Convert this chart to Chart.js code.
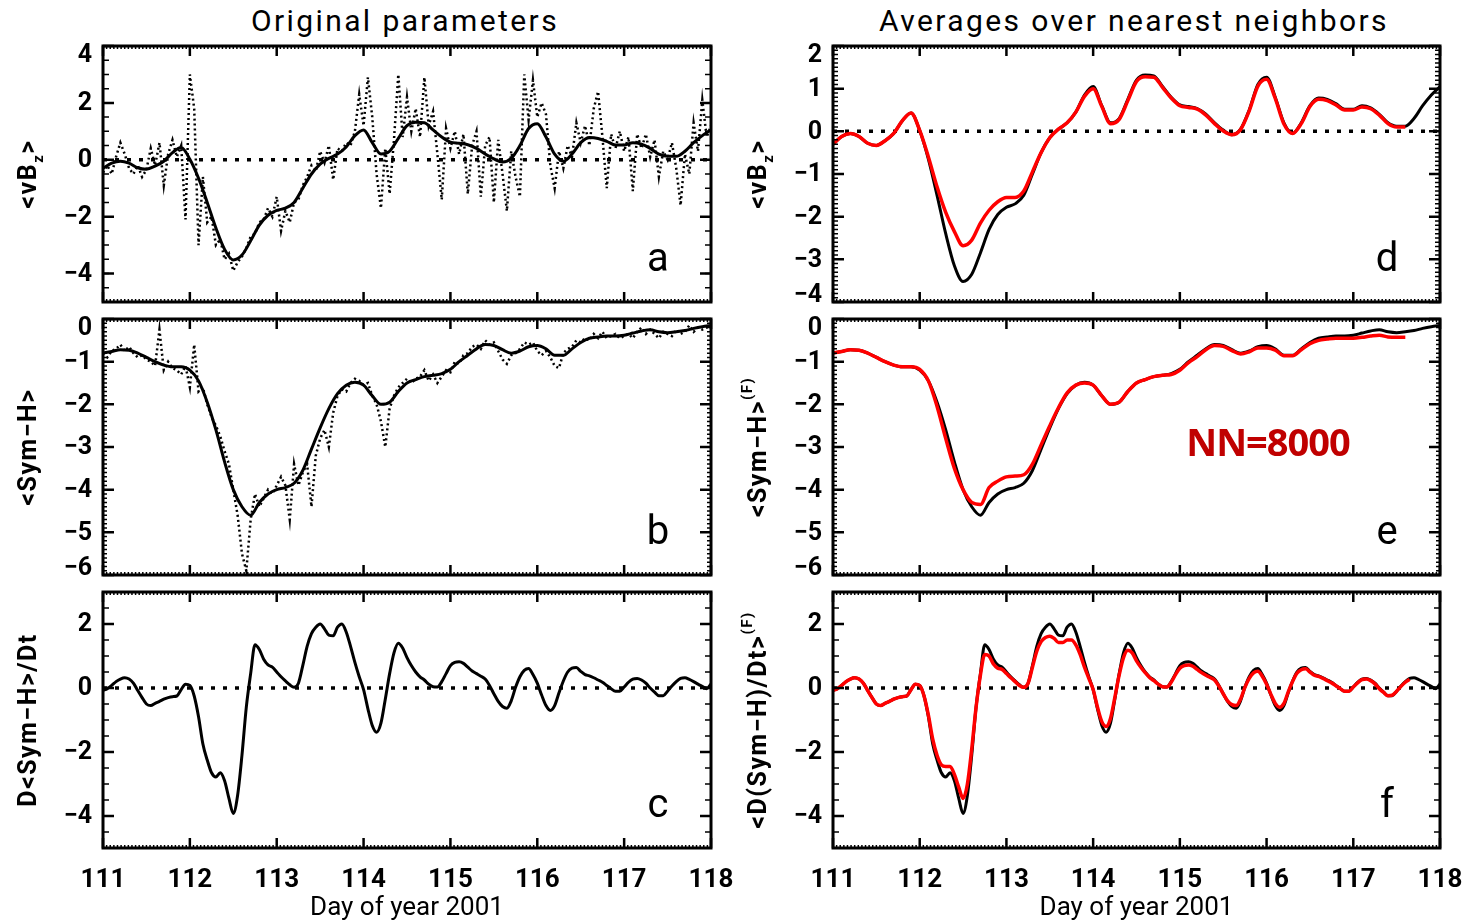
<!DOCTYPE html>
<html>
<head>
<meta charset="utf-8">
<script src="https://cdn.jsdelivr.net/npm/chart.js@4.4.1/dist/chart.umd.min.js"></script>
<style>
  html, body { margin: 0; padding: 0; background: #fff; }
  body { width: 1468px; height: 924px; position: relative; overflow: hidden;
         font-family: Roboto, 'DejaVu Sans', sans-serif; }
  canvas { position: absolute; }
  .coltitle { position: absolute; top: 3px; font-size: 30px; letter-spacing: 2.4px;
              color: #000; transform: translateX(-50%); white-space: nowrap; }
  #nn { position: absolute; left: 1268px; top: 441px; transform: translate(-50%, -50%);
        font-family: 'Open Sans', Lato, sans-serif; font-weight: 700; font-size: 38px;
        color: #c00000; white-space: nowrap; letter-spacing: -1px; }
</style>
</head>
<body>
<div class="coltitle" style="left:405px">Original parameters</div>
<div class="coltitle" style="left:1134px">Averages over nearest neighbors</div>

<canvas id="pa" width="740" height="318" style="left:0;top:0"></canvas>
<canvas id="pb" width="740" height="290" style="left:0;top:300px"></canvas>
<canvas id="pc" width="740" height="349" style="left:0;top:575px"></canvas>
<canvas id="pd" width="728" height="318" style="left:740px;top:0"></canvas>
<canvas id="pe" width="728" height="290" style="left:740px;top:300px"></canvas>
<canvas id="pf" width="728" height="349" style="left:740px;top:575px"></canvas>

<div id="nn">NN=8000</div>

<script>
// ── time axis (day of year 2001)
const X_MIN = 111, X_MAX = 118;
const X_TICKS = [111, 112, 113, 114, 115, 116, 117, 118];
const X_MINOR_PER_DAY = 24;           // hourly minor ticks

const DAYS_01 = Array.from({ length: 71 }, (_, i) => +(X_MIN + i * 0.1).toFixed(2));
const DAYS_005 = Array.from({ length: 141 }, (_, i) => +(X_MIN + i * 0.05).toFixed(2));

// ── <vBz>: raw (dotted, 0.05 d) and smoothed (0.1 d)
const VBZ_DOTS = [
  -0.45, -0.2, -0.5, 0.1, 0.6, 0.2, -0.3, -0.5, -0.2, -0.6, -0.35, 0.4, -0.2, 0.6, -0.9, 0.2, 0.7, 0.1, 0.5, -2.1,
  3.0, 1.8, -3.0, -0.6, -2.2, -2.0, -3.0, -2.8, -3.5, -3.3, -3.9, -3.6, -3.4, -3.1, -2.7, -2.6, -2.2, -2.1, -1.7, -2.0,
  -1.3, -2.5, -1.8, -2.2, -1.5, -1.4, -0.9, -0.6, -0.2, -0.4, 0.3, -0.1, 0.5, -0.7, 0.4, 0.3, 0.6, 0.5, 1.0, 2.3,
  1.2, 2.9, 1.5, -0.5, -1.7, 0.4, -1.2, 0.7, 3.0, 0.8, 2.2, 1.0, 1.8, 0.8, 2.9, 1.2, 1.7, 0.2, -1.4, 1.1,
  0.4, 1.0, 0.2, 0.9, -1.2, 0.5, 1.0, -1.3, 0.5, 0.8, -1.5, 0.7, -0.5, -1.8, 0.3, -0.6, -1.3, 3.0, 1.4, 2.8,
  1.5, 2.0, 1.6, -0.2, -1.0, 0.3, -0.3, 0.5, 0.1, 1.3, 0.6, 1.2, 0.5, 1.8, 2.4, 0.8, -1.0, 0.9, 0.4, 1.0,
  0.3, 0.8, -1.1, 0.9, 0.4, 0.9, 0.1, 0.7, -0.6, 0.3, 0.0, 0.6, -0.3, -1.6, 0.2, -0.5, 1.3, 0.3, 2.1, 0.8,
  1.2
];
const VBZ_SMOOTH = [
  -0.3, -0.12, -0.05, -0.12, -0.28, -0.33, -0.22, -0.05, 0.25, 0.43,
  0.02, -0.65, -1.5, -2.4, -3.15, -3.52, -3.35, -2.85, -2.3, -1.95,
  -1.78, -1.7, -1.5, -1.0, -0.5, -0.15, 0.05, 0.2, 0.45, 0.85,
  1.05, 0.6, 0.2, 0.3, 0.75, 1.2, 1.32, 1.3, 1.05, 0.8,
  0.62, 0.58, 0.53, 0.4, 0.2, 0.03, -0.08, 0.05, 0.5, 1.1,
  1.27, 0.8, 0.2, -0.05, 0.2, 0.6, 0.78, 0.75, 0.65, 0.52,
  0.52, 0.6, 0.55, 0.4, 0.2, 0.12, 0.12, 0.3, 0.6, 0.85,
  1.05
];
// NN=8000 average, stops at 117.6
const VBZ_NN = [
  -0.3, -0.12, -0.05, -0.12, -0.28, -0.33, -0.22, -0.05, 0.25, 0.43,
  0.02, -0.6, -1.3, -1.9, -2.35, -2.68, -2.55, -2.15, -1.85, -1.65,
  -1.55, -1.55, -1.4, -0.95, -0.5, -0.15, 0.05, 0.2, 0.45, 0.82,
  1.0, 0.58, 0.18, 0.28, 0.72, 1.17, 1.28, 1.27, 1.03, 0.78,
  0.6, 0.56, 0.52, 0.38, 0.18, 0.01, -0.08, 0.04, 0.48, 1.06,
  1.22, 0.77, 0.17, -0.05, 0.18, 0.58, 0.75, 0.72, 0.62, 0.5,
  0.5, 0.57, 0.53, 0.38, 0.18, 0.1, 0.1
];

// ── <Sym-H>
const SYMH_DOTS = [
  -0.8, -0.9, -0.75, -0.7, -0.6, -0.75, -0.65, -0.8, -0.9, -0.85, -0.95, -1.0, -1.1, -0.25, -1.2, -1.0, -1.15, -1.2, -1.3, -1.1,
  -1.6, -0.6, -1.7, -1.6, -2.0, -2.3, -2.5, -2.75, -3.1, -3.4, -4.0, -4.6, -5.5, -5.9, -4.7, -4.1, -4.4, -4.2, -4.0, -4.1,
  -3.9, -3.7, -3.9, -4.7, -3.4, -3.9, -3.6, -3.4, -4.4, -3.2, -2.8, -2.6, -3.0, -2.2, -1.8, -1.65, -1.7, -1.5, -1.4, -1.45,
  -1.55, -1.5, -1.8, -2.0, -2.4, -3.0, -2.1, -1.8, -1.6, -1.5, -1.4, -1.5, -1.4, -1.35, -1.2, -1.45, -1.3, -1.5, -1.35, -1.2,
  -1.25, -1.0, -1.05, -0.85, -0.8, -0.65, -0.6, -0.7, -0.5, -0.6, -0.55, -0.75, -0.95, -1.05, -0.85, -0.8, -0.7, -0.55, -0.6, -0.55,
  -0.75, -0.85, -0.75, -0.9, -1.1, -1.15, -0.8, -0.7, -0.65, -0.5, -0.55, -0.45, -0.5, -0.35, -0.45, -0.3, -0.45, -0.4, -0.35, -0.45,
  -0.4, -0.35, -0.45, -0.3, -0.2, -0.35, -0.25, -0.35, -0.45, -0.3, -0.35, -0.4, -0.25, -0.35, -0.3, -0.15, -0.3, -0.2, -0.25, -0.2,
  -0.2
];
const SYMH_SMOOTH = [
  -0.8, -0.76, -0.72, -0.73, -0.8, -0.9, -1.0, -1.08, -1.12, -1.12,
  -1.2, -1.45, -1.95, -2.6, -3.35, -4.0, -4.4, -4.6, -4.3, -4.1,
  -4.0, -3.95, -3.85, -3.55, -3.05, -2.55, -2.1, -1.75, -1.55, -1.48,
  -1.55, -1.8, -2.0, -1.95, -1.7, -1.5, -1.42, -1.35, -1.32, -1.28,
  -1.18, -1.0, -0.85, -0.7, -0.6, -0.62, -0.72, -0.8, -0.75, -0.65,
  -0.62, -0.7, -0.85, -0.85, -0.7, -0.55, -0.45, -0.42, -0.4, -0.4,
  -0.38, -0.33, -0.28, -0.25, -0.3, -0.32, -0.3, -0.27, -0.22, -0.18,
  -0.15
];
const SYMH_NN = [
  -0.8, -0.76, -0.72, -0.73, -0.8, -0.9, -1.0, -1.08, -1.12, -1.12,
  -1.18, -1.45, -2.05, -2.8, -3.5, -4.0, -4.3, -4.35, -3.95, -3.8,
  -3.7, -3.68, -3.65, -3.4, -2.95, -2.5, -2.08, -1.73, -1.55, -1.5,
  -1.55, -1.8, -2.0, -1.95, -1.7, -1.5, -1.42, -1.35, -1.32, -1.3,
  -1.2, -1.02, -0.88, -0.72, -0.62, -0.64, -0.74, -0.82, -0.77, -0.68,
  -0.68, -0.73, -0.86, -0.86, -0.72, -0.58, -0.5, -0.47, -0.45, -0.45,
  -0.45, -0.43, -0.4, -0.38, -0.42, -0.43, -0.43
];

// ── D<Sym-H>/Dt (0.05 d)
const DSYM = [
  -0.08, -0.02, 0.08, 0.2, 0.28, 0.32, 0.28, 0.15, -0.08, -0.3, -0.5, -0.55, -0.48, -0.42, -0.35, -0.3, -0.27, -0.25, -0.05, 0.12,
  0.08, -0.25, -0.9, -1.75, -2.25, -2.65, -2.78, -2.65, -2.9, -3.45, -3.92, -3.35, -2.1, -0.6, 0.45, 1.35, 1.2, 0.9, 0.72, 0.65,
  0.5, 0.35, 0.22, 0.1, 0.02, 0.15, 0.7, 1.3, 1.7, 1.9, 2.0, 1.85, 1.65, 1.63, 1.9, 2.0, 1.75, 1.3, 0.8, 0.35,
  -0.05, -0.65, -1.17, -1.38, -1.1, -0.35, 0.45, 1.1, 1.4, 1.25, 0.95, 0.7, 0.5, 0.35, 0.25, 0.12, 0.04, 0.03, 0.2, 0.45,
  0.7, 0.8, 0.82, 0.77, 0.65, 0.53, 0.45, 0.37, 0.28, 0.08, -0.18, -0.42, -0.58, -0.63, -0.4, 0.02, 0.35, 0.55, 0.61, 0.42,
  0.15, -0.22, -0.55, -0.7, -0.55, -0.15, 0.22, 0.5, 0.62, 0.64, 0.52, 0.42, 0.38, 0.32, 0.25, 0.18, 0.08, -0.02, -0.1, -0.1,
  0.03, 0.18, 0.28, 0.3, 0.25, 0.15, 0.0, -0.13, -0.24, -0.24, -0.1, 0.06, 0.2, 0.3, 0.32, 0.27, 0.2, 0.12, 0.05, -0.02,
  0.12
];
const DSYM_NN = [
  -0.08, -0.02, 0.08, 0.2, 0.28, 0.32, 0.28, 0.15, -0.08, -0.3, -0.5, -0.55, -0.48, -0.42, -0.35, -0.3, -0.27, -0.25, -0.05, 0.12,
  0.08, -0.25, -0.85, -1.6, -2.1, -2.4, -2.45, -2.45, -2.7, -3.1, -3.45, -3.0, -1.9, -0.6, 0.4, 1.05, 1.0, 0.75, 0.62, 0.58,
  0.45, 0.32, 0.2, 0.08, 0.02, 0.15, 0.65, 1.15, 1.45, 1.58, 1.62, 1.55, 1.42, 1.42, 1.5, 1.5, 1.35, 1.05, 0.65, 0.3,
  -0.05, -0.6, -1.05, -1.2, -0.95, -0.3, 0.4, 0.95, 1.18, 1.1, 0.85, 0.65, 0.48, 0.33, 0.23, 0.12, 0.04, 0.03, 0.18, 0.42,
  0.62, 0.7, 0.72, 0.68, 0.58, 0.48, 0.4, 0.33, 0.25, 0.06, -0.18, -0.4, -0.52, -0.55, -0.35, 0.02, 0.3, 0.47, 0.52, 0.37,
  0.12, -0.2, -0.48, -0.6, -0.48, -0.12, 0.2, 0.46, 0.57, 0.6, 0.5, 0.4, 0.36, 0.3, 0.23, 0.16, 0.07, -0.02, -0.1, -0.1,
  0.03, 0.16, 0.26, 0.28, 0.23, 0.13, -0.02, -0.14, -0.24, -0.22, -0.1, 0.05, 0.18, 0.27
];

const ZERO_LINE = [0, 0];
const ZERO_DAYS = [X_MIN, X_MAX];

// ── y axes
const Y_TICKS_VBZ = [-4, -2, 0, 2, 4];
const Y_TICKS_VBZ_NN = [-4, -3, -2, -1, 0, 1, 2];
const Y_TICKS_SYMH = [-6, -5, -4, -3, -2, -1, 0];
const Y_TICKS_DSYM = [-4, -2, 0, 2];

const BLACK = '#000000';
const RED = '#ff0000';
const FONT = "Roboto, 'DejaVu Sans', sans-serif";
const TICK_FONT = `bold 25px ${FONT}`;

function pts(days, vals) {
  return vals.map((v, i) => ({ x: days[i], y: v }));
}

function solid(days, vals, color, width, order) {
  return { data: pts(days, vals), borderColor: color, borderWidth: width, pointRadius: 0,
           cubicInterpolationMode: 'monotone', order };
}
function dotted(days, vals, order) {
  return { data: pts(days, vals), borderColor: BLACK, borderWidth: 2.5, pointRadius: 0,
           borderDash: [2, 3], tension: 0, order };
}
function zero(order) {
  return { data: pts(ZERO_DAYS, ZERO_LINE), borderColor: BLACK, borderWidth: 3.5, pointRadius: 0,
           borderDash: [4, 8], order };
}

// ── panel specs: axes, frame and titles
const PANELS = {
  pa: { col: 0, row: 0, yMin: -5, yMax: 4, yTicks: Y_TICKS_VBZ, yMinor: 0.5, yMinorLen: 6, letter: 'a',
        title: [['<vB', 0], ['z', 1], ['>', 0]],
        datasets: [solid(DAYS_01, VBZ_SMOOTH, BLACK, 3, 0), dotted(DAYS_005, VBZ_DOTS, 1), zero(2)] },
  pb: { col: 0, row: 1, yMin: -6, yMax: 0, yTicks: Y_TICKS_SYMH, yMinor: 0.1, yMinorLen: 4, letter: 'b',
        title: [['<Sym\u2212H>', 0]],
        datasets: [solid(DAYS_01, SYMH_SMOOTH, BLACK, 3, 0), dotted(DAYS_005, SYMH_DOTS, 1)] },
  pc: { col: 0, row: 2, yMin: -5, yMax: 3, yTicks: Y_TICKS_DSYM, yMinor: 0.5, yMinorLen: 6, letter: 'c',
        title: [['D<Sym\u2212H>/Dt', 0]],
        datasets: [solid(DAYS_005, DSYM, BLACK, 3, 0), zero(1)] },
  pd: { col: 1, row: 0, yMin: -4, yMax: 2, yTicks: Y_TICKS_VBZ_NN, yMinor: 0.1, yMinorLen: 5, letter: 'd',
        title: [['<vB', 0], ['z', 1], ['>', 0]],
        datasets: [solid(DAYS_01, VBZ_NN, RED, 3.5, 0), solid(DAYS_01, VBZ_SMOOTH, BLACK, 3, 1), zero(2)] },
  pe: { col: 1, row: 1, yMin: -6, yMax: 0, yTicks: Y_TICKS_SYMH, yMinor: 0.1, yMinorLen: 4, letter: 'e',
        title: [['<Sym\u2212H>', 0], ['(F)', -1]],
        datasets: [solid(DAYS_01, SYMH_NN, RED, 3.5, 0), solid(DAYS_01, SYMH_SMOOTH, BLACK, 3, 1)] },
  pf: { col: 1, row: 2, yMin: -5, yMax: 3, yTicks: Y_TICKS_DSYM, yMinor: 0.5, yMinorLen: 6, letter: 'f',
        title: [['<D(Sym\u2212H)/Dt>', 0], ['(F)', -1]],
        datasets: [solid(DAYS_005, DSYM_NN, RED, 3.5, 0), solid(DAYS_005, DSYM, BLACK, 3, 1), zero(2)] }
};

// plot box geometry per row / column (pixels inside each canvas)
const ROW_PAD = [ { top: 46, bottom: 16 }, { top: 19, bottom: 15 }, { top: 17, bottom: 0 } ];
const COL_GEOM = [ { yWidth: 103, right: 29, titleX: 30 }, { yWidth: 93, right: 28, titleX: 20 } ];

const fmtTick = v => String(v).replace('-', '\u2212');

function drawYTitle(ctx, parts, cx, cy) {
  const fontFor = p => p[1] === 0 ? `bold 25px ${FONT}` : `bold 15px ${FONT}`;
  ctx.save();
  ctx.translate(cx, cy);
  ctx.rotate(-Math.PI / 2);
  ctx.textBaseline = 'middle';
  ctx.textAlign = 'left';
  ctx.fillStyle = BLACK;
  ctx.letterSpacing = '1.5px';
  let total = 0;
  parts.forEach(p => { ctx.font = fontFor(p); total += ctx.measureText(p[0]).width; });
  let x = -total / 2;
  parts.forEach(p => {
    ctx.font = fontFor(p);
    const dy = p[1] === 1 ? 9 : (p[1] === -1 ? -12 : 0);
    ctx.fillText(p[0], x, dy);
    x += ctx.measureText(p[0]).width;
  });
  ctx.restore();
}

// ── IDL-style frame: box, inward ticks on all four sides, y labels, panel letter, y title
const idlFrame = {
  id: 'idlFrame',
  afterDatasetsDraw(chart) {
    const spec = PANELS[chart.canvas.id];
    const { ctx, chartArea: a } = chart;
    const xs = chart.scales.x, ys = chart.scales.y;
    const seg = (x1, y1, x2, y2) => { ctx.moveTo(x1, y1); ctx.lineTo(x2, y2); };
    ctx.save();
    ctx.strokeStyle = BLACK;

    ctx.lineWidth = 1.5;
    ctx.beginPath();
    for (let i = 1; i < X_MINOR_PER_DAY * (X_MAX - X_MIN); i++) {
      if (i % X_MINOR_PER_DAY === 0) continue;
      const px = xs.getPixelForValue(X_MIN + i / X_MINOR_PER_DAY);
      seg(px, a.bottom, px, a.bottom - 3);
      seg(px, a.top, px, a.top + 3);
    }
    const nMinor = Math.round((spec.yMax - spec.yMin) / spec.yMinor);
    for (let i = 1; i < nMinor; i++) {
      const py = ys.getPixelForValue(spec.yMin + i * spec.yMinor);
      seg(a.left, py, a.left + spec.yMinorLen, py);
      seg(a.right, py, a.right - spec.yMinorLen, py);
    }
    ctx.stroke();

    ctx.lineWidth = 2.5;
    ctx.beginPath();
    X_TICKS.forEach(v => {
      const px = xs.getPixelForValue(v);
      seg(px, a.bottom, px, a.bottom - 10);
      seg(px, a.top, px, a.top + 10);
    });
    spec.yTicks.forEach(v => {
      const py = ys.getPixelForValue(v);
      seg(a.left, py, a.left + 11, py);
      seg(a.right, py, a.right - 11, py);
    });
    ctx.stroke();

    ctx.lineWidth = 3;
    ctx.strokeRect(a.left, a.top, a.right - a.left, a.bottom - a.top);

    // y tick labels; the ones on the frame edge sit just inside, as in IDL output
    ctx.fillStyle = BLACK;
    ctx.font = TICK_FONT;
    ctx.textAlign = 'right';
    ctx.textBaseline = 'middle';
    spec.yTicks.forEach(v => {
      const py = Math.min(Math.max(ys.getPixelForValue(v), a.top + 9), a.bottom - 7);
      ctx.fillText(fmtTick(v), a.left - 11, py + 1);
    });

    ctx.font = `40px ${FONT}`;
    ctx.textAlign = 'center';
    ctx.textBaseline = 'alphabetic';
    ctx.fillText(spec.letter, a.right - 53, a.bottom - 31);

    drawYTitle(ctx, spec.title, COL_GEOM[spec.col].titleX, (a.top + a.bottom) / 2);
    ctx.restore();
  }
};

function buildPanel(id) {
  const spec = PANELS[id];
  const col = COL_GEOM[spec.col];
  const pad = ROW_PAD[spec.row];
  const bottomRow = spec.row === 2;
  return new Chart(document.getElementById(id), {
    type: 'line',
    data: { datasets: spec.datasets },
    options: {
      responsive: false,
      animation: false,
      events: [],
      layout: { padding: { top: pad.top, bottom: pad.bottom, left: 0, right: col.right } },
      plugins: { legend: { display: false }, tooltip: { enabled: false } },
      scales: {
        x: {
          type: 'linear', min: X_MIN, max: X_MAX,
          afterBuildTicks: s => { s.ticks = X_TICKS.map(v => ({ value: v })); },
          afterFit: s => { s.height = bottomRow ? 76 : 0; s.paddingLeft = 0; s.paddingRight = 0; },
          grid: { display: false }, border: { display: false },
          ticks: { display: bottomRow, padding: 9, color: BLACK, autoSkip: false, maxRotation: 0,
                   font: { family: FONT, size: 26, weight: 'bold' } },
          title: { display: bottomRow, text: 'Day of year 2001', color: BLACK,
                   font: { family: FONT, size: 26 }, padding: { top: 0, bottom: 0 } }
        },
        y: {
          type: 'linear', min: spec.yMin, max: spec.yMax,
          afterBuildTicks: s => { s.ticks = spec.yTicks.map(v => ({ value: v })); },
          afterFit: s => { s.width = col.yWidth; s.paddingTop = 0; s.paddingBottom = 0; },
          grid: { display: false }, border: { display: false },
          ticks: { display: false, callback: fmtTick }
        }
      }
    },
    plugins: [idlFrame]
  });
}

Object.keys(PANELS).forEach(buildPanel);
</script>
</body>
</html>
